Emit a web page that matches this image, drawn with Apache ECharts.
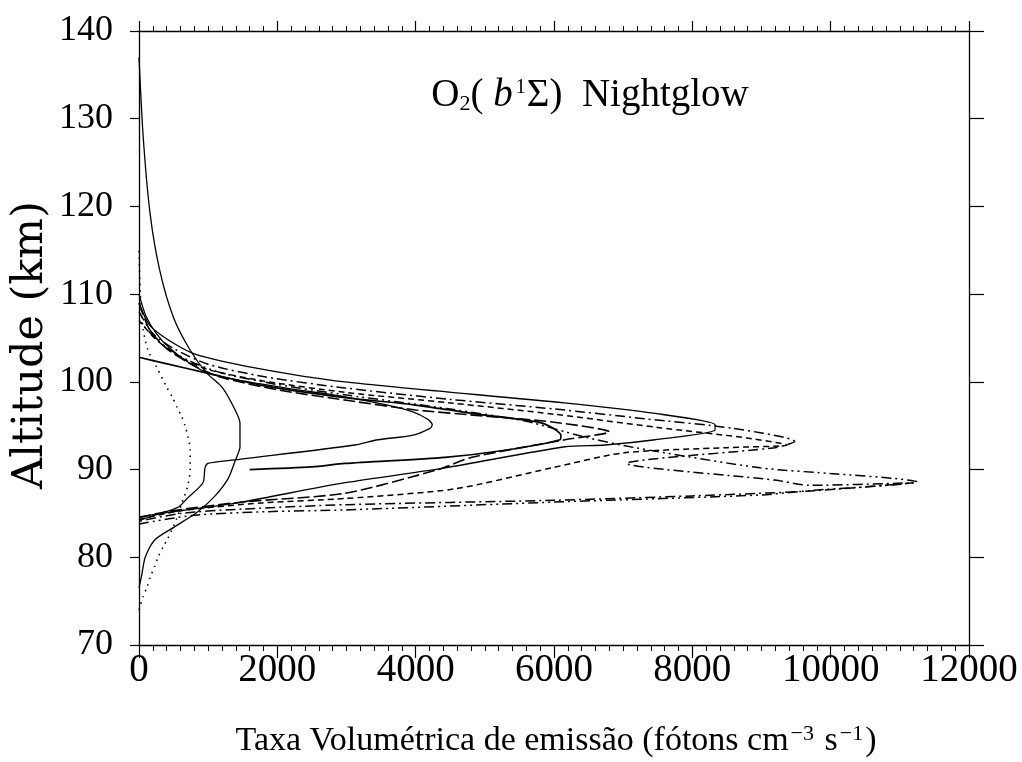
<!DOCTYPE html>
<html>
<head>
<meta charset="utf-8">
<script src="https://cdn.jsdelivr.net/npm/echarts@6/dist/echarts.min.js"></script>
<style>html,body{margin:0;padding:0;background:#fff}#c{width:1022px;height:762px}</style>
</head>
<body>
<div id="c"></div>
<script>
// ---- data: [emission rate (photons cm^-3 s^-1), altitude (km)] ----
const xTicks = [0, 2000, 4000, 6000, 8000, 10000, 12000];
const yTicks = [70, 80, 90, 100, 110, 120, 130, 140];

const broadSolid = [[0,76.5],[40,78],[90,80],[230,82],[520,83.5],[850,85.2],[1100,87],[1290,89],[1390,91],[1460,92.6],[1460,95.3],[1390,96.8],[1200,99.4],[980,101],[740,103.6],[500,107.3],[300,112.7],[160,119.2],[60,128],[0,137]];
const dotted = [[0,74],[60,75.5],[116,76.6],[160,77.7],[230,79],[275,80],[350,81.2],[420,82.2],[550,84.5],[620,86.2],[700,88],[740,90],[740,92.3],[710,93.7],[665,95],[620,96],[550,97.1],[480,98.3],[400,99.4],[260,101.6],[130,103.6],[60,106],[20,110],[0,115]];
const profile1 = [[0,84.2],[231,84.8],[564,85.7],[708,86.8],[925,88.5],[954,90.2],[997,90.7],[1388,91.1],[3123,92.8],[3455,93.4],[3947,93.9],[4207,94.7],[4240,95.1],[4180,95.7],[3950,96.6],[3560,97.4],[2980,98.3],[2200,99.2],[1500,100.1],[1000,101],[700,102.3],[450,103.8],[250,105.5],[100,107.5],[0,110]];
const profile2 = [[1600,90.0],[2500,90.3],[2978,90.7],[4424,91.4],[5291,92.2],[6087,93.4],[6100,93.9],[5826,95.3],[5000,96.2],[3947,97.4],[2978,98.2],[1778,99.6],[983,101],[376,102.1],[0,102.8]];
const profile3 = [[0,84.5],[400,85.2],[1490,86.3],[2978,87.3],[4322,90],[4814,91.4],[6159,93.4],[6800,94.3],[6000,95.4],[5000,96.1],[4000,96.8],[3000,97.9],[2000,99.1],[1200,100.5],[800,101.8],[400,103.8],[150,106],[0,109]];
const profile4 = [[0,84.6],[400,85.1],[882,85.6],[1490,86.3],[2978,88.5],[4424,90.2],[6159,92.6],[6737,92.8],[7460,93.4],[8327,94.5],[8330,95.1],[7460,96.4],[6150,97.6],[2978,100],[1677,101.6],[800,103.2],[420,104.8],[150,106.5],[0,109]];
const profile5 = [[0,108],[200,105.5],[500,103.8],[1000,102],[1800,100.6],[2978,99.3],[4500,98],[6014,96.9],[7300,95.8],[8590,94.7],[9480,93.2],[9195,92.5],[7050,90.7],[9195,88.8],[9700,88.2],[11200,88.5],[9800,87.6],[8000,87.0],[6000,86.5],[3000,86.0],[1500,85.5],[600,85.0],[0,84.1]];
const profile6 = [[0,84.3],[600,85.3],[1778,86.2],[2978,86.7],[4568,87.8],[5970,90.2],[7000,91.9],[8500,92.5],[9370,92.8],[8790,93.6],[7500,94.8],[6014,96.3],[4500,97.6],[2978,98.8],[1800,100.1],[1000,101.4],[600,102.8],[250,104.8],[0,107]];
const profile7 = [[0,83.8],[800,84.8],[1850,85.2],[2978,85.4],[6014,86.3],[8978,87.1],[9700,87.6],[11250,88.6],[10900,89],[10090,89.5],[8978,90.2],[7170,92.5],[6400,93.8],[5600,95.5],[4500,96.9],[3000,98.5],[2000,99.7],[1200,101],[700,102.5],[300,104.5],[0,107]];

const seriesDefs = [
  {name:'broad', data: broadSolid, type:'solid', w:1.3},
  {name:'dotted', data: dotted, type:[1.5,5], w:1.6},
  {name:'p1', data: profile1, type:'solid', w:1.3},
  {name:'p2', data: profile2, type:'solid', w:1.7},
  {name:'p3', data: profile3, type:[12,4], w:1.6},
  {name:'p4', data: profile4, type:'solid', w:1.3},
  {name:'p5', data: profile5, type:[10,4,2,4], w:1.5},
  {name:'p6', data: profile6, type:[6,4], w:1.5},
  {name:'p7', data: profile7, type:[10,4,2,4,2,4], w:1.5}
];

const FONT = 'Liberation Serif';
const chart = echarts.init(document.getElementById('c'), null, {renderer:'canvas'});
const axisCommon = {
  axisLine:{show:true, onZero:false, lineStyle:{color:'#000', width:1.3}},
  splitLine:{show:false}
};
chart.setOption({
  backgroundColor:'#fff',
  animation:false,
  grid:{left:139, right:53, top:31, bottom:117, containLabel:false},
  xAxis:[
    Object.assign({type:'value', position:'bottom', min:xTicks[0], max:xTicks[xTicks.length-1], interval:2000,
      axisTick:{show:true, length:13, lineStyle:{color:'#000', width:1.2}},
      minorTick:{show:true, splitNumber:10, length:6, lineStyle:{color:'#000', width:1}},
      axisLabel:{color:'#000', fontFamily:FONT, fontSize:39, margin:6, formatter: v => String(v)}}, axisCommon),
    Object.assign({type:'value', position:'top', min:xTicks[0], max:xTicks[xTicks.length-1], interval:2000,
      axisTick:{show:true, length:10, lineStyle:{color:'#000', width:1.2}},
      minorTick:{show:true, splitNumber:10, length:5, lineStyle:{color:'#000', width:1}},
      axisLabel:{show:false}}, axisCommon)
  ],
  yAxis:[
    Object.assign({type:'value', position:'left', min:yTicks[0], max:yTicks[yTicks.length-1], interval:10,
      axisTick:{show:true, length:9, lineStyle:{color:'#000', width:1.2}},
      axisLabel:{color:'#000', fontFamily:FONT, fontSize:36, margin:26, formatter: v => String(v)}}, axisCommon),
    Object.assign({type:'value', position:'right', min:yTicks[0], max:yTicks[yTicks.length-1], interval:10,
      axisTick:{show:true, length:15, lineStyle:{color:'#000', width:1.2}},
      axisLabel:{show:false}}, axisCommon)
  ],
  graphic:[
    {type:'text', x:556, y:741, style:{
      text:'Taxa Volumétrica de emissão (fótons cm{s|−3} s{s|−1})',
      rich:{s:{fontSize:22, fontFamily:FONT, fill:'#000', verticalAlign:'top', padding:[0,2,14,2]}},
      font:'34px "Liberation Serif"', fill:'#000', align:'center', verticalAlign:'middle'}},
    {type:'text', x:31, y:345, rotation:Math.PI/2, style:{
      text:'Altitude (km)', font:'43px "DejaVu Serif"', fill:'#000', align:'center', verticalAlign:'middle'}},
    {type:'text', x:590, y:96, style:{
      text:'O{sub|2}( {it|b}{sup|1}Σ)  Nightglow',
      rich:{sub:{fontSize:22, fontFamily:FONT, fill:'#000', padding:[16,0,0,0]},
            it:{fontSize:39, fontFamily:FONT, fontStyle:'italic', fill:'#000'},
            sup:{fontSize:20, fontFamily:FONT, fill:'#000', padding:[0,1,16,3]}},
      font:'39px "Liberation Serif"', fill:'#000', align:'center', verticalAlign:'middle'}}
  ],
  series: seriesDefs.map(d => ({
    name:d.name, type:'line', data:d.data, showSymbol:false, smooth:0.25,
    lineStyle:{color:'#000', width:d.w, type:d.type}, xAxisIndex:0, yAxisIndex:0, z:3
  }))
});
</script>
</body>
</html>
